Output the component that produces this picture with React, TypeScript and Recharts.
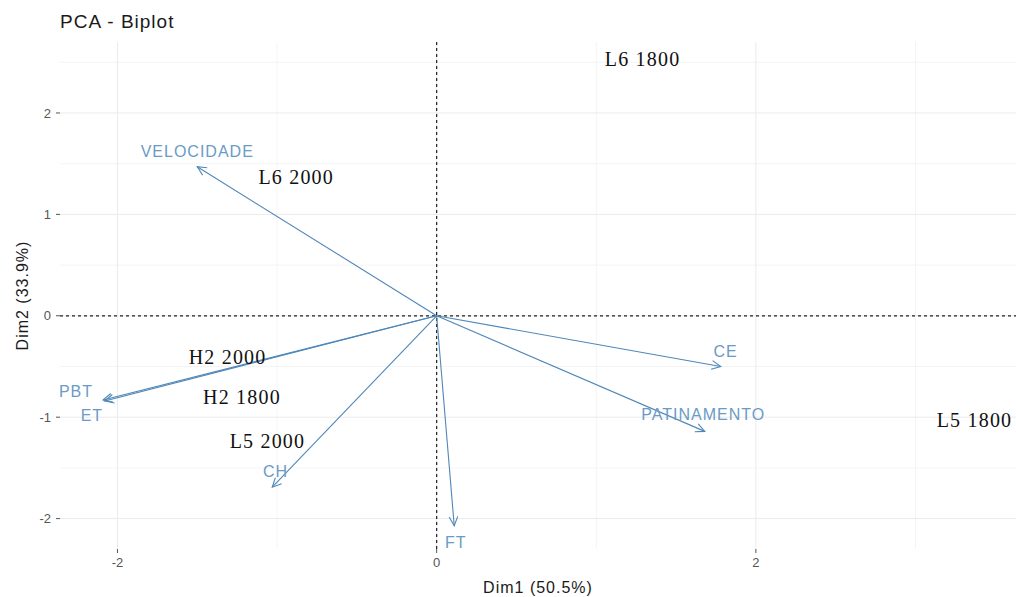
import { ScatterChart, Scatter, XAxis, YAxis, ReferenceLine } from 'recharts';

// individuals (black serif labels)
const indNames = ['L6 1800', 'L6 2000', 'H2 2000', 'H2 1800', 'L5 2000', 'L5 1800'];
const indX = [1.29, -0.88, -1.31, -1.22, -1.06, 3.37];
const indY = [2.53, 1.37, -0.41, -0.8, -1.23, -1.03];

// variables (arrow tips + label positions)
const varNames = ['VELOCIDADE', 'PBT', 'ET', 'CH', 'FT', 'CE', 'PATINAMENTO'];
const varX = [-1.5, -2.09, -2.08, -1.03, 0.11, 1.78, 1.68];
const varY = [1.47, -0.83, -0.84, -1.69, -2.07, -0.5, -1.14];
const labelX = [-1.5, -2.26, -2.16, -1.01, 0.12, 1.81, 1.67];
const labelY = [1.62, -0.75, -0.98, -1.54, -2.24, -0.35, -0.97];

const xTicks = [-2, 0, 2];
const yTicks = [-2, -1, 0, 1, 2];
const xMinor = [-1, 1, 3];
const yMinor = [-1.5, -0.5, 0.5, 1.5, 2.5];

const individuals = indNames.map((name, i) => ({ name, x: indX[i], y: indY[i] }));
const varLabels = varNames.map((name, i) => ({ name, x: labelX[i], y: labelY[i] }));

const ARROW = '#4f87b8';
const GRID = '#ebebeb';

const ArrowLine = (props: any) => {
  const { x1, y1, x2, y2 } = props;
  const ang = Math.atan2(y2 - y1, x2 - x1);
  const len = 10;
  const spread = Math.PI / 7;
  const p1 = [x2 - len * Math.cos(ang - spread), y2 - len * Math.sin(ang - spread)];
  const p2 = [x2 - len * Math.cos(ang + spread), y2 - len * Math.sin(ang + spread)];
  return (
    <g>
      <line x1={x1} y1={y1} x2={x2} y2={y2} stroke={ARROW} strokeWidth={1.1} />
      <polyline
        points={`${p1[0]},${p1[1]} ${x2},${y2} ${p2[0]},${p2[1]}`}
        fill="none"
        stroke={ARROW}
        strokeWidth={1.1}
      />
    </g>
  );
};

const IndLabel = (props: any) => (
  <text
    x={props.cx}
    y={props.cy}
    textAnchor="middle"
    dominantBaseline="central"
    fontFamily="Liberation Serif"
    fontSize={20}
    letterSpacing={1.2}
    fill="#111"
  >
    {props.payload.name}
  </text>
);

const VarLabel = (props: any) => (
  <text
    x={props.cx}
    y={props.cy}
    textAnchor="middle"
    dominantBaseline="central"
    fontFamily="Liberation Sans"
    fontSize={16}
    letterSpacing={1}
    fill="#6a9bc6"
  >
    {props.payload.name}
  </text>
);

export default function App() {
  const tickStyle = { fontFamily: 'Liberation Sans', fontSize: 13, fill: '#555' };
  return (
    <div style={{ position: 'absolute', left: 0, top: 0, width: 1016, height: 597, background: '#fff' }}>
      <div
        style={{
          position: 'absolute',
          left: 60,
          top: 12,
          fontFamily: 'Liberation Sans',
          fontSize: 19,
          lineHeight: '20px',
          letterSpacing: 1,
          color: '#1a1a1a',
        }}
      >
        PCA - Biplot
      </div>
      <ScatterChart width={1016} height={597} margin={{ top: 42, right: 0, bottom: 0, left: 0 }}>
        <XAxis
          type="number"
          dataKey="x"
          domain={[-2.36, 3.63]}
          ticks={xTicks}
          allowDataOverflow
          height={48}
          axisLine={false}
          tickSize={4}
          tickMargin={5}
          tickLine={{ stroke: '#555' }}
          tick={tickStyle}
          label={{
            value: 'Dim1 (50.5%)',
            position: 'insideBottom',
            offset: 4,
            style: { fontFamily: 'Liberation Sans', fontSize: 16, letterSpacing: 1, fill: '#1a1a1a' },
          }}
        />
        <YAxis
          type="number"
          dataKey="y"
          domain={[-2.3, 2.7]}
          ticks={yTicks}
          allowDataOverflow
          width={60}
          axisLine={false}
          tickSize={4}
          tickMargin={5}
          tickLine={{ stroke: '#555' }}
          tick={tickStyle}
          label={{
            value: 'Dim2 (33.9%)',
            angle: -90,
            position: 'insideLeft',
            offset: 22,
            style: { fontFamily: 'Liberation Sans', fontSize: 16, letterSpacing: 1, fill: '#1a1a1a', textAnchor: 'middle' },
          }}
        />
        {xMinor.map((v) => (
          <ReferenceLine key={`xm${v}`} x={v} stroke="#f1f1f1" strokeWidth={0.8} />
        ))}
        {yMinor.map((v) => (
          <ReferenceLine key={`ym${v}`} y={v} stroke="#f1f1f1" strokeWidth={0.8} />
        ))}
        {xTicks.map((v) => (
          <ReferenceLine key={`xg${v}`} x={v} stroke={GRID} strokeWidth={1} />
        ))}
        {yTicks.map((v) => (
          <ReferenceLine key={`yg${v}`} y={v} stroke={GRID} strokeWidth={1} />
        ))}
        <ReferenceLine x={0} stroke="#222" strokeDasharray="3 3" strokeWidth={1.2} />
        <ReferenceLine y={0} stroke="#222" strokeDasharray="3 3" strokeWidth={1.2} />
        {varNames.map((name, i) => (
          <ReferenceLine
            key={`arrow-${name}`}
            segment={[
              { x: 0, y: 0 },
              { x: varX[i], y: varY[i] },
            ]}
            shape={ArrowLine}
          />
        ))}
        <Scatter data={varLabels} shape={VarLabel} isAnimationActive={false} />
        <Scatter data={individuals} shape={IndLabel} isAnimationActive={false} />
      </ScatterChart>
    </div>
  );
}
